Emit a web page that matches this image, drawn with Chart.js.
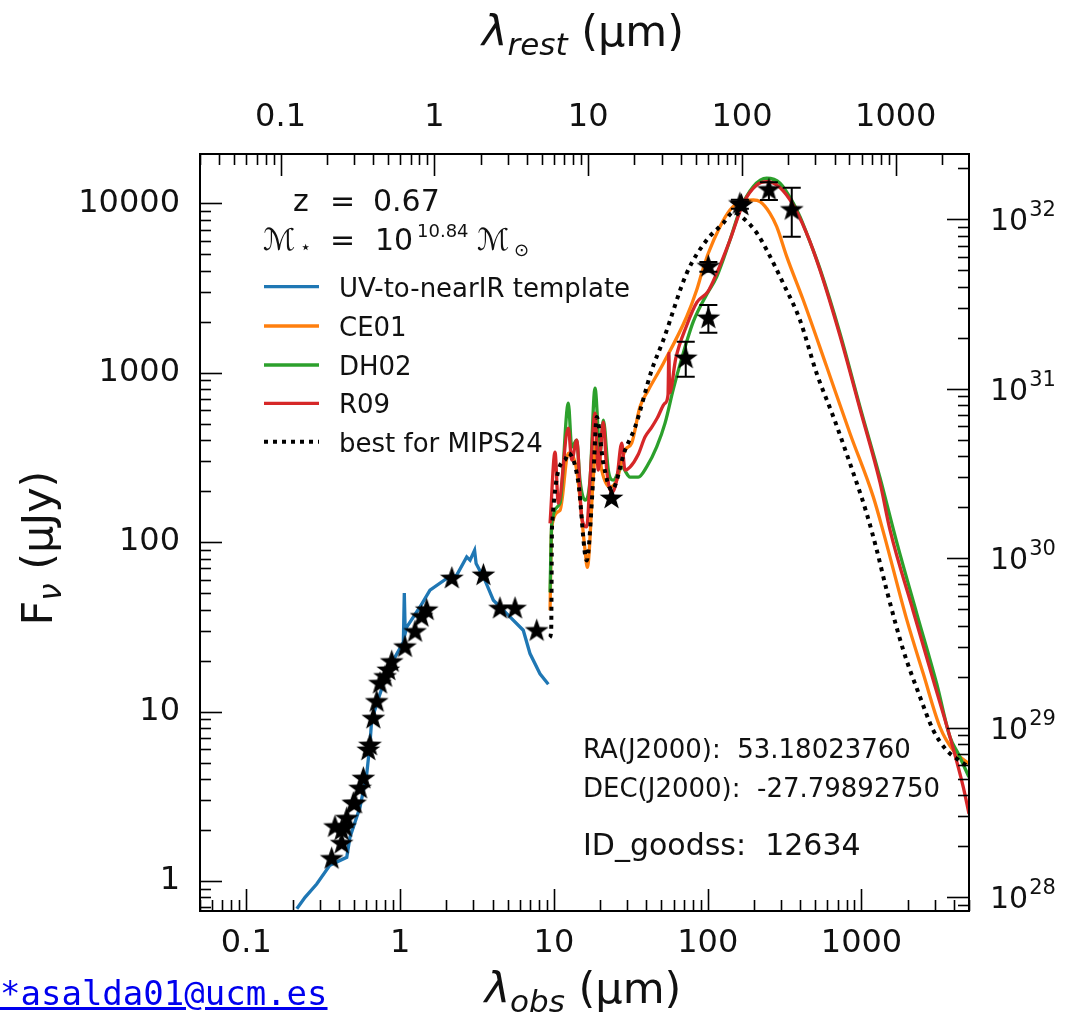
<!DOCTYPE html>
<html>
<head>
<meta charset="utf-8">
<script src="https://cdn.jsdelivr.net/npm/chart.js@4.4.1/dist/chart.umd.min.js"></script>
<style>
  html, body { margin: 0; padding: 0; background: #fff; }
  #wrap { position: relative; width: 1066px; height: 1020px; }
  #sed { position: absolute; left: 0; top: 0; }
  #mail { position: absolute; left: 0; top: 973px; line-height: 40px;
          font: 34px 'DejaVu Sans Mono', monospace; color: #0000ee; text-decoration: underline; }
</style>
</head>
<body>
<div id="wrap">
  <canvas id="sed" width="1066" height="1020"></canvas>
  <a id="mail" href="mailto:asalda01@ucm.es">*asalda01@ucm.es</a>
</div>
<script>
// SED de la fuente GOODS-S 12634 (flujos en uJy, longitudes de onda observadas en um)

const redshift = 0.67;

// fotometria (estrellas)
const photLam  = [0.359, 0.377, 0.417, 0.417, 0.438, 0.450, 0.496, 0.509, 0.549, 0.577, 0.621, 0.637,
                  0.670, 0.705, 0.740, 0.798, 0.838, 0.882, 1.076, 1.25, 1.38, 1.49, 2.17, 3.48,
                  4.46, 5.59, 7.73, 23.7, 72, 101, 101, 162, 166, 250, 352];
const photFlux = [1.35, 2.08, 1.66, 1.99, 2.08, 2.33, 2.86, 2.86, 3.51, 4.02, 5.90, 6.30,
                  9.08, 11.4, 14.6, 16.0, 17.5, 19.6, 24.0, 29.5, 36.2, 39.6, 61.0, 63.7,
                  40.5, 40.5, 29.9, 181, 1215, 4222, 2093, 9900, 9700, 11985, 9130];
const photErrLo = [null, null, null, null, null, null, null, null, null, null, null, null,
                   null, null, null, null, null, null, null, null, null, null, null, null,
                   null, null, null, null, 946, 3950, 1720, 9300, null, 10460, 6350];
const photErrHi = [null, null, null, null, null, null, null, null, null, null, null, null,
                   null, null, null, null, null, null, null, null, null, null, null, null,
                   null, null, null, null, 1522, 4500, 2506, 10500, null, 13300, 12360];

// plantilla UV-IR cercano
const uvLam  = [0.213, 0.241, 0.287, 0.350, 0.450, 0.472, 0.549, 0.607, 0.637, 0.653, 0.705, 0.778,
                0.903, 1.05, 1.065, 1.08, 1.104, 1.346, 1.564, 2.01, 2.33, 2.71, 2.85, 3.05,
                3.12, 3.56, 4.04, 5.18, 6.32, 6.99, 8.12, 9.20];
const uvFlux = [0.685, 0.80, 0.96, 1.24, 1.38, 1.81, 2.73, 4.29, 6.46, 8.87, 11.1, 14.6,
                20.1, 25.7, 50.0, 29.0, 31.5, 41.4, 52.0, 61.0, 63.7, 81.8, 78.2, 89.5,
                74.8, 59.6, 45.4, 36.2, 30.2, 22.0, 16.7, 14.5];

// CE01
const ce01Lam  = [9.44, 9.68, 10.96, 12.41, 14.07, 15.93, 16.49, 18.04, 18.98, 20.46, 23.17, 25.61,
                  29.0, 32.05, 36.29, 41.1, 51.45, 73.0, 84.8, 91.4, 100.9, 120.2, 139.6, 162.3,
                  197.9, 219, 254, 281, 327, 418, 594, 842, 1193, 1386, 1967, 2523, 3238, 3954, 5000];
const ce01Flux = [39.6, 123, 154, 335, 266, 90, 71, 242, 417, 266, 211, 232,
                  349, 384, 629, 789, 1134, 2140, 3076, 3860, 5070, 7280, 9130, 10220,
                  10460, 10220, 8730, 7280, 4830, 2685, 1084, 438, 185, 115, 35.0, 16.7, 8.1, 5.9, 4.92];

// DH02
const dh02Lam  = [9.44, 9.68, 10.96, 12.41, 13.06, 14.07, 14.78, 15.93, 17.17, 18.51, 19.94, 20.96,
                  22.58, 24.34, 27.6, 31.25, 35.39, 40.1, 46.6, 52.8, 59.75, 67.8, 80.6, 98.5,
                  114.4, 139.6, 162.3, 197.9, 241.9, 295.3, 360.5, 398, 440, 537, 725, 978,
                  1319, 1694, 2285, 3083, 3763, 4260, 5000];
const dh02Flux = [50.6, 129, 170, 661, 364, 400, 232, 177, 232, 811, 335, 525,
                  266, 232, 277, 242, 242, 278, 365, 504, 800, 1215, 2000, 2900,
                  3685, 6070, 9130, 12540, 14050, 13130, 10000, 8340, 6650, 4100, 1706, 629,
                  240, 100, 38, 14.6, 7.07, 5.64, 4.10];

// R09
const r09Lam  = [9.44, 10.17, 10.68, 12.41, 13.06, 14.07, 15.16, 16.34, 17.17, 18.51, 19.44, 20.96,
                 22.05, 23.76, 25.61, 27.6, 29.0, 31.25, 35.4, 39.1, 43.3, 47, 52.8, 55.2,
                 55.9, 56.6, 62, 73, 85, 100, 114.4, 139.6, 170.4, 208.3, 241.9, 281,
                 343, 440, 537, 725, 978, 1319, 1532, 2172, 2931, 3763, 4590, 5000];
const r09Flux = [129, 340, 170, 471, 305, 400, 140, 123, 232, 577, 266, 511,
                 266, 195, 232, 384, 266, 277, 330, 417, 477, 540, 661, 738,
                 1300, 760, 1215, 1900, 2600, 3000, 3860, 6070, 10000, 12830, 13415, 12830,
                 10460, 6650, 4040, 1650, 610, 225, 118, 39, 15.3, 7.07, 3.58, 2.49];

// mejor ajuste a MIPS24
const mipsLam  = [9.40, 9.60, 9.72, 11.81, 12.41, 14.35, 16.34, 18.04, 18.98, 20.96, 23.76, 29.0,
                  33.7, 43.25, 51.45, 73, 98.5, 126, 147, 175, 208, 242, 310, 398,
                  511, 656, 842, 1081, 1256, 1458, 1870, 2401, 2931, 3581, 4159, 5000];
const mipsFlux = [27.4, 30, 123, 305, 335, 232, 78, 242, 547, 293, 203, 349,
                  477, 1036, 1558, 3860, 6070, 7620, 8850, 8000, 6700, 5300, 3365, 2045,
                  991, 550, 291, 147.5, 90, 52, 23, 12.2, 7.75, 5.9, 5.27, 4.7];

// marcas de los ejes
const obsTicks  = [0.1, 1, 10, 100, 1000];
const restTicks = [0.1, 1, 10, 100, 1000];
const fluxTicks = [1, 10, 100, 1000, 10000];
const lumExps   = [28, 29, 30, 31, 32];

// limites de los ejes
const xMin = 0.05, xMax = 5000;
const yMin = 0.665, yMax = 19540;
const lumOffsetDex = 28.0945;   // log L - log F

Chart.defaults.font.family = "'DejaVu Sans', sans-serif";
Chart.defaults.color = '#111';

const FONT = "'DejaVu Sans', sans-serif";

function pts(xs, ys) {
    return xs.map((x, i) => ({ x: x, y: ys[i] }));
}

function makeStar(r) {
    const c = document.createElement('canvas');
    const s = Math.ceil(r * 2 + 2);
    c.width = s; c.height = s;
    const g = c.getContext('2d');
    g.fillStyle = '#000';
    g.beginPath();
    for (let i = 0; i < 10; i++) {
        const ang = -Math.PI / 2 + i * Math.PI / 5;
        const rr = i % 2 === 0 ? r : r * 0.4;
        g.lineTo(s / 2 + rr * Math.cos(ang), s / 2 + rr * Math.sin(ang));
    }
    g.closePath();
    g.fill();
    return c;
}

function logTickVals(min, max) {
    const out = [];
    const d0 = Math.floor(Math.log10(min)), d1 = Math.ceil(Math.log10(max));
    for (let d = d0; d <= d1; d++) {
        for (let k = 1; k < 10; k++) {
            const v = k * Math.pow(10, d);
            if (v >= min * 0.9999 && v <= max * 1.0001) out.push({ v: v, major: k === 1 });
        }
    }
    return out;
}

// dibuja trozos de texto seguidos, centrados en cx
function drawParts(ctx, parts, cx, baseY) {
    let total = 0;
    parts.forEach(p => { ctx.font = p.font; p.w = ctx.measureText(p.text).width; total += p.w; });
    let x = cx - total / 2;
    parts.forEach(p => {
        ctx.font = p.font;
        ctx.fillText(p.text, x, baseY + (p.dy || 0));
        x += p.w;
    });
}

function titleParts(main, sub, size) {
    return [
        { text: main, font: `italic ${size}px ${FONT}` },
        { text: sub, font: `italic ${Math.round(size * 0.73)}px ${FONT}`, dy: size * 0.2 },
        { text: ' (μm)', font: `${size}px ${FONT}` }
    ];
}

const sedDecor = {
    id: 'sedDecor',
    afterDatasetsDraw(chart) {
        const { ctx, chartArea: a, scales } = chart;
        ctx.save();

        // barras de error
        ctx.strokeStyle = '#000';
        ctx.lineWidth = 2;
        photLam.forEach((lam, i) => {
            if (photErrLo[i] == null) return;
            const px = scales.x.getPixelForValue(lam);
            const p1 = scales.y.getPixelForValue(photErrLo[i]);
            const p2 = scales.y.getPixelForValue(photErrHi[i]);
            ctx.beginPath();
            ctx.moveTo(px, p1); ctx.lineTo(px, p2);
            ctx.moveTo(px - 9, p1); ctx.lineTo(px + 9, p1);
            ctx.moveTo(px - 9, p2); ctx.lineTo(px + 9, p2);
            ctx.stroke();
        });

        // marco
        ctx.lineWidth = 2;
        ctx.strokeRect(a.left, a.top, a.width, a.height);

        // marcas hacia dentro
        ctx.lineWidth = 1.6;
        const sides = [['x', 'bottom'], ['xRest', 'top'], ['y', 'left'], ['yLum', 'right']];
        sides.forEach(([id, side]) => {
            const sc = scales[id];
            logTickVals(sc.min, sc.max).forEach(t => {
                const len = t.major ? 22 : 11;
                const p = Math.round(sc.getPixelForValue(t.v)) + 0.5;
                ctx.beginPath();
                if (side === 'bottom') { ctx.moveTo(p, a.bottom); ctx.lineTo(p, a.bottom - len); }
                if (side === 'top')    { ctx.moveTo(p, a.top);    ctx.lineTo(p, a.top + len); }
                if (side === 'left')   { ctx.moveTo(a.left, p);   ctx.lineTo(a.left + len, p); }
                if (side === 'right')  { ctx.moveTo(a.right, p);  ctx.lineTo(a.right - len, p); }
                ctx.stroke();
            });
        });

        // etiquetas eje derecho (luminosidad)
        ctx.fillStyle = '#111';
        ctx.textAlign = 'left';
        ctx.textBaseline = 'alphabetic';
        lumExps.forEach(e => {
            const p = scales.yLum.getPixelForValue(Math.pow(10, e));
            ctx.font = `30px ${FONT}`;
            ctx.fillText('10', a.right + 21, p + 11);
            const w = ctx.measureText('10').width;
            ctx.font = `21px ${FONT}`;
            ctx.fillText(String(e), a.right + 21 + w + 1, p - 3);
        });

        // leyenda
        const legendRows = [286.7, 326, 365, 403.3, 441.7];
        [0, 1, 2, 3, 4].forEach((di, k) => {
            const ds = chart.data.datasets[di];
            const y = legendRows[k];
            ctx.beginPath();
            ctx.strokeStyle = ds.borderColor;
            ctx.lineWidth = ds.borderWidth;
            ctx.setLineDash(ds.borderDash || []);
            ctx.moveTo(264, y); ctx.lineTo(319, y);
            ctx.stroke();
            ctx.setLineDash([]);
            ctx.font = `26px ${FONT}`;
            ctx.fillStyle = '#111';
            ctx.fillText(ds.label, 339, y + 10);
        });

        // redshift y masa
        ctx.font = `30px ${FONT}`;
        ctx.fillText('z', 293, 211);
        ctx.fillText('=', 330, 211);
        ctx.fillText(String(redshift), 373, 211);
        ctx.fillText('ℳ', 263, 250);
        ctx.font = `18px ${FONT}`;
        ctx.fillText('⋆', 300, 253);
        ctx.font = `30px ${FONT}`;
        ctx.fillText('=', 330, 250);
        ctx.fillText('10', 375, 250);
        ctx.font = `18px ${FONT}`;
        ctx.fillText('10.84', 417, 237);
        ctx.font = `30px ${FONT}`;
        ctx.fillText('ℳ', 477, 250);
        ctx.font = `18px ${FONT}`;
        ctx.fillText('⊙', 514, 256);

        // coordenadas e identificador
        ctx.font = `26px ${FONT}`;
        ctx.fillText('RA(J2000):  53.18023760', 583, 758);
        ctx.fillText('DEC(J2000):  -27.79892750', 583, 797);
        ctx.font = `30px ${FONT}`;
        ctx.fillText('ID_goodss:  12634', 583, 855);

        // titulos de los ejes
        const tSize = 43;
        drawParts(ctx, titleParts('λ', 'rest', tSize), 583, 46);
        drawParts(ctx, titleParts('λ', 'obs', tSize), 583, 1003);
        ctx.translate(52, 548);
        ctx.rotate(-Math.PI / 2);
        drawParts(ctx, [
            { text: 'F', font: `${tSize}px ${FONT}` },
            { text: 'ν', font: `italic ${Math.round(tSize * 0.73)}px ${FONT}`, dy: tSize * 0.2 },
            { text: ' (μJy)', font: `${tSize}px ${FONT}` }
        ], 0, 0);

        ctx.restore();
    }
};

const star = makeStar(12.5);

function curve(label, xs, ys, color, order, dash, smooth) {
    return {
        label: label,
        data: pts(xs, ys),
        showLine: true,
        borderColor: color,
        borderWidth: dash ? 4 : 3.3,
        borderDash: dash,
        cubicInterpolationMode: smooth ? 'monotone' : 'default',
        pointRadius: 0,
        fill: false,
        order: order
    };
}

new Chart(document.getElementById('sed'), {
    type: 'scatter',
    data: {
        datasets: [
            curve('UV-to-nearIR template', uvLam, uvFlux, '#1f77b4', 6),
            curve('CE01', ce01Lam, ce01Flux, '#ff7f0e', 5, undefined, true),
            curve('DH02', dh02Lam, dh02Flux, '#2ca02c', 4, undefined, true),
            curve('R09', r09Lam, r09Flux, '#d62728', 3, undefined, true),
            curve('best for MIPS24', mipsLam, mipsFlux, '#000000', 2, [4, 5], true),
            {
                label: 'photometry',
                data: pts(photLam, photFlux),
                pointStyle: star,
                pointRadius: 12,
                order: 1
            }
        ]
    },
    options: {
        responsive: false,
        animation: false,
        layout: { padding: 0 },
        plugins: { legend: { display: false }, tooltip: { enabled: false } },
        scales: {
            x: {
                type: 'logarithmic', position: 'bottom', min: xMin, max: xMax,
                grid: { display: false, drawTicks: false }, border: { display: false },
                afterBuildTicks: s => { s.ticks = obsTicks.map(v => ({ value: v })); },
                afterFit: s => { s.height = 109; },
                ticks: { font: { size: 32 }, padding: 13, maxRotation: 0, autoSkip: false, callback: v => String(v) }
            },
            xRest: {
                type: 'logarithmic', position: 'top',
                min: xMin / (1 + redshift), max: xMax / (1 + redshift),
                grid: { display: false, drawTicks: false }, border: { display: false },
                afterBuildTicks: s => { s.ticks = restTicks.map(v => ({ value: v })); },
                afterFit: s => { s.height = 154; },
                ticks: { font: { size: 32 }, padding: 17, maxRotation: 0, autoSkip: false, callback: v => String(v) }
            },
            y: {
                type: 'logarithmic', position: 'left', min: yMin, max: yMax,
                grid: { display: false, drawTicks: false }, border: { display: false },
                afterBuildTicks: s => { s.ticks = fluxTicks.map(v => ({ value: v })); },
                afterFit: s => { s.width = 200; },
                ticks: { font: { size: 32 }, padding: 20, autoSkip: false, callback: v => String(v) }
            },
            yLum: {
                type: 'logarithmic', position: 'right',
                min: yMin * Math.pow(10, lumOffsetDex), max: yMax * Math.pow(10, lumOffsetDex),
                grid: { display: false, drawTicks: false }, border: { display: false },
                afterFit: s => { s.width = 97; },
                ticks: { display: false }
            }
        }
    },
    plugins: [sedDecor]
});
</script>
</body>
</html>
